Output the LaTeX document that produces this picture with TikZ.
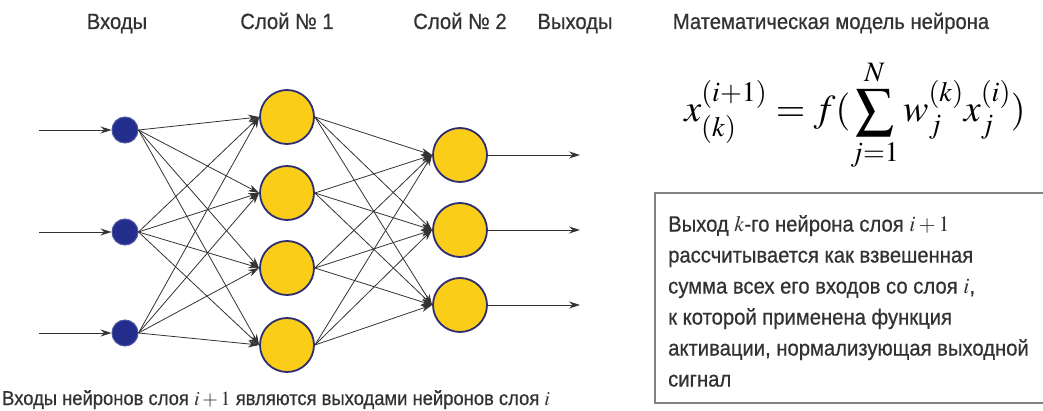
\documentclass[tikz,border=0pt]{standalone}
\usepackage{mathptmx}
\usepackage[no-math]{fontspec}
\setmainfont{Liberation Sans}[FakeStretch=0.92,FakeBold=0.6]
\usetikzlibrary{arrows.meta}
\definecolor{txt}{RGB}{50,50,50}
\definecolor{inblue}{RGB}{35,45,140}
\definecolor{neuyel}{RGB}{250,205,25}
\definecolor{neuedge}{RGB}{45,45,115}
\definecolor{boxgray}{RGB}{130,130,130}
\tikzset{
  lbl/.style={font=\fontsize{22}{26}\selectfont, text=txt, inner sep=0pt},
  inp/.style={circle, fill=inblue, draw=inblue!80!white, line width=1pt, minimum size=26pt, inner sep=0pt},
  neu/.style={circle, fill=neuyel, draw=neuedge, line width=1.8pt, minimum size=54pt, inner sep=0pt},
  conn/.style={draw=black!80, line width=0.8pt, -{Stealth[length=11pt,width=7pt]}},
}
\begin{document}
\begin{tikzpicture}[x=1pt,y=-1pt]
\useasboundingbox (0,0) rectangle (1043,411);
% labels
\node[lbl, anchor=base] (tIn) at (117,29) {Входы};
\node[lbl, anchor=base] (tL1) at (287,29) {Слой № 1};
\node[lbl, anchor=base] (tL2) at (460,29) {Слой № 2};
\node[lbl, anchor=base] (tOut) at (575,29) {Выходы};
\node[lbl, anchor=base] (tMod) at (831,29) {Математическая модель нейрона};
% inputs
\foreach \i/\y in {1/130,2/232,3/333}{
  \node[inp] (i\i) at (125,\y) {};
  \coordinate (s\i) at (39,\y);
  \draw[conn] (s\i) -- (i\i.west);
}
% layer 1
\foreach \i/\y in {1/117,2/193,3/268,4/345}{
  \node[neu] (h\i) at (287,\y) {};
}
% layer 2
\foreach \i/\y in {1/155,2/230,3/305}{
  \node[neu] (o\i) at (460,\y) {};
  \coordinate (e\i) at (580,\y);
  \draw[conn] (o\i.east) -- (e\i);
}
\foreach \a in {1,2,3}{
  \foreach \b in {1,2,3,4}{
    \draw[conn] (i\a.east) -- (h\b.west);
  }
}
\foreach \a in {1,2,3,4}{
  \foreach \b in {1,2,3}{
    \draw[conn] (h\a.east) -- (o\b.west);
  }
}
% formula
\node[inner sep=0pt, font=\fontsize{38}{44}\selectfont] (formula) at (855,115)
  {$\displaystyle x_{(k)}^{(i+1)} = f(\sum_{j=1}^{N} w_j^{(k)} x_j^{(i)})$};
% box
\draw[boxgray, line width=2.4pt] (1060,193) -- (655,193) -- (655,403) -- (1060,403);
\node[lbl, anchor=north west, align=left, font=\fontsize{22}{31}\selectfont] (desc) at (668,215)
  {Выход $k$-го нейрона слоя $i+1$\\
   рассчитывается как взвешенная\\
   сумма всех его входов со слоя $i$,\\
   к которой применена функция\\
   активации, нормализующая выходной\\
   сигнал};
% bottom caption
\node[lbl, anchor=base west, font=\fontsize{20}{24}\selectfont] (cap) at (2,405)
  {Входы нейронов слоя $i+1$ являются выходами нейронов слоя $i$};
\end{tikzpicture}
\end{document}
